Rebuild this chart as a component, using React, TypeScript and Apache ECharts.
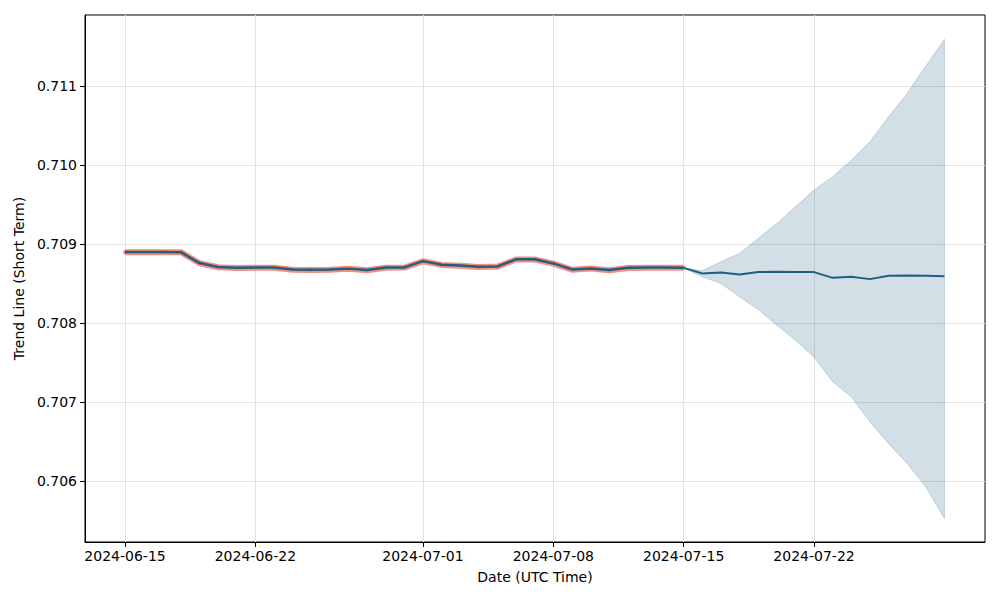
import React, { useEffect, useRef } from "react";
import * as echarts from "echarts";

const histDates = [
  "2024-06-15", "2024-06-16", "2024-06-17", "2024-06-18", "2024-06-19", "2024-06-20", "2024-06-21",
  "2024-06-22", "2024-06-23", "2024-06-24", "2024-06-25", "2024-06-26", "2024-06-27", "2024-06-28",
  "2024-06-29", "2024-06-30", "2024-07-01", "2024-07-02", "2024-07-03", "2024-07-04", "2024-07-05",
  "2024-07-06", "2024-07-07", "2024-07-08", "2024-07-09", "2024-07-10", "2024-07-11", "2024-07-12",
  "2024-07-13", "2024-07-14", "2024-07-15",
];
const histTrend = [
  0.708900, 0.708900, 0.708900, 0.708898, 0.708760, 0.708710, 0.708700,
  0.708703, 0.708703, 0.708680, 0.708676, 0.708678, 0.708690, 0.708672,
  0.708705, 0.708705, 0.708785, 0.708740, 0.708728, 0.708713, 0.708718,
  0.708808, 0.708808, 0.708756, 0.708680, 0.708693, 0.708672, 0.708700,
  0.708703, 0.708703, 0.708702,
];
const histActual = [
  0.708898, 0.708897, 0.708897, 0.708898, 0.708758, 0.708707, 0.708698,
  0.708701, 0.708700, 0.708677, 0.708674, 0.708675, 0.708688, 0.708669,
  0.708702, 0.708703, 0.708783, 0.708737, 0.708725, 0.708710, 0.708716,
  0.708805, 0.708806, 0.708754, 0.708677, 0.708691, 0.708669, 0.708698,
  0.708700, 0.708700, 0.708700,
];

const fcDates = [
  "2024-07-15", "2024-07-16", "2024-07-17", "2024-07-18", "2024-07-19", "2024-07-20", "2024-07-21",
  "2024-07-22", "2024-07-23", "2024-07-24", "2024-07-25", "2024-07-26", "2024-07-27", "2024-07-28",
  "2024-07-29",
];
const fcTrend = [
  0.708700, 0.708629, 0.708642, 0.708616, 0.708646, 0.708649, 0.708648,
  0.708646, 0.708573, 0.708586, 0.708557, 0.708599, 0.708604, 0.708601,
  0.708595,
];
const fcUpper = [
  0.708700, 0.708662, 0.708776, 0.708882, 0.709072, 0.709262, 0.709472,
  0.709684, 0.709852, 0.710063, 0.710295, 0.710611, 0.710908, 0.711253,
  0.711591,
];
const fcLower = [
  0.708696, 0.708586, 0.708503, 0.708333, 0.708173, 0.707975, 0.707785,
  0.707573, 0.707257, 0.707067, 0.706751, 0.706477, 0.706224, 0.705928,
  0.705528,
];

const xTicks = ["2024-06-15", "2024-06-22", "2024-07-01", "2024-07-08", "2024-07-15", "2024-07-22"];
const yTicks = [0.706, 0.707, 0.708, 0.709, 0.71, 0.711];

const ts = (d: string) => {
  const [y, m, dd] = d.split("-").map(Number);
  return Date.UTC(y, m - 1, dd);
};
const pad = (n: number) => (n < 10 ? "0" + n : "" + n);
const fmt = (v: number) => {
  const d = new Date(v);
  return d.getUTCFullYear() + "-" + pad(d.getUTCMonth() + 1) + "-" + pad(d.getUTCDate());
};

export default function App() {
  const ref = useRef<HTMLDivElement>(null);
  useEffect(() => {
    if (!ref.current) return;
    const chart = echarts.init(ref.current, null, { renderer: "svg" });
    const DAY = 86400000;
    const font = "DejaVu Sans";
    const blue = "#1f5f82";
    const bandData = fcDates.map((d, i) => [ts(d), fcUpper[i], fcLower[i]]);
    chart.setOption({
      animation: false,
      backgroundColor: "#ffffff",
      grid: {
        left: 85, right: 15, top: 15, bottom: 58,
        show: true, borderColor: "#000", borderWidth: 1, backgroundColor: "transparent",
      },
      xAxis: {
        type: "value",
        min: ts("2024-06-15") - 2.15 * DAY,
        max: ts("2024-07-22") + 9.18 * DAY,
        name: "Date (UTC Time)",
        nameLocation: "middle",
        nameGap: 28,
        nameTextStyle: { color: "#000", fontFamily: font, fontSize: 14 },
        axisLine: { show: true, onZero: false, lineStyle: { color: "#000", width: 1 } },
        axisTick: { show: true, length: 5, lineStyle: { color: "#000" }, customValues: xTicks.map(ts) },
        axisLabel: {
          color: "#000", fontFamily: font, fontSize: 14, margin: 7,
          customValues: xTicks.map(ts),
          formatter: (v: number) => fmt(v),
          hideOverlap: false,
        },
        splitLine: { show: true, lineStyle: { color: "#e3e3e3", width: 1 } },
      },
      yAxis: {
        type: "value",
        min: 0.70523,
        max: 0.7119,
        name: "Trend Line (Short Term)",
        nameLocation: "middle",
        nameGap: 58,
        nameTextStyle: { color: "#000", fontFamily: font, fontSize: 14 },
        axisLine: { show: true, onZero: false, lineStyle: { color: "#000", width: 1 } },
        axisTick: { show: true, length: 5, lineStyle: { color: "#000" }, customValues: yTicks },
        axisLabel: {
          color: "#000", fontFamily: font, fontSize: 14, margin: 8,
          customValues: yTicks,
          formatter: (v: number) => v.toFixed(3),
        },
        splitLine: { show: true, lineStyle: { color: "#e3e3e3", width: 1 } },
      },
      series: [
        {
          name: "band",
          type: "custom",
          data: bandData,
          encode: { x: 0, y: [1, 2] },
          renderItem: (params: any, api: any) => {
            if (params.dataIndex !== 0) return null;
            const up = bandData.map((r) => api.coord([r[0], r[1]]));
            const lo = bandData.map((r) => api.coord([r[0], r[2]])).reverse();
            return {
              type: "polygon",
              shape: { points: up.concat(lo) },
              style: { fill: "rgba(31,95,130,0.2)", stroke: "rgba(31,95,130,0.22)", lineWidth: 1 },
            };
          },
          z: 1,
        },
        {
          name: "actual",
          type: "line",
          data: histDates.map((d, i) => [ts(d), histActual[i]]),
          symbol: "circle",
          symbolSize: 4,
          itemStyle: { color: "#f5826f" },
          lineStyle: { color: "#f5826f", width: 6, opacity: 0.9 },
          z: 2,
        },
        {
          name: "trend",
          type: "line",
          data: histDates.map((d, i) => [ts(d), histTrend[i]]),
          symbol: "none",
          lineStyle: { color: blue, width: 2.5 },
          z: 3,
        },
        {
          name: "forecast",
          type: "line",
          data: fcDates.map((d, i) => [ts(d), fcTrend[i]]),
          symbol: "none",
          lineStyle: { color: blue, width: 2 },
          z: 3,
        },
      ],
    });
    return () => chart.dispose();
  }, []);
  return (
    <div
      ref={ref}
      style={{ position: "fixed", left: 0, top: 0, width: 1000, height: 600 }}
    />
  );
}
